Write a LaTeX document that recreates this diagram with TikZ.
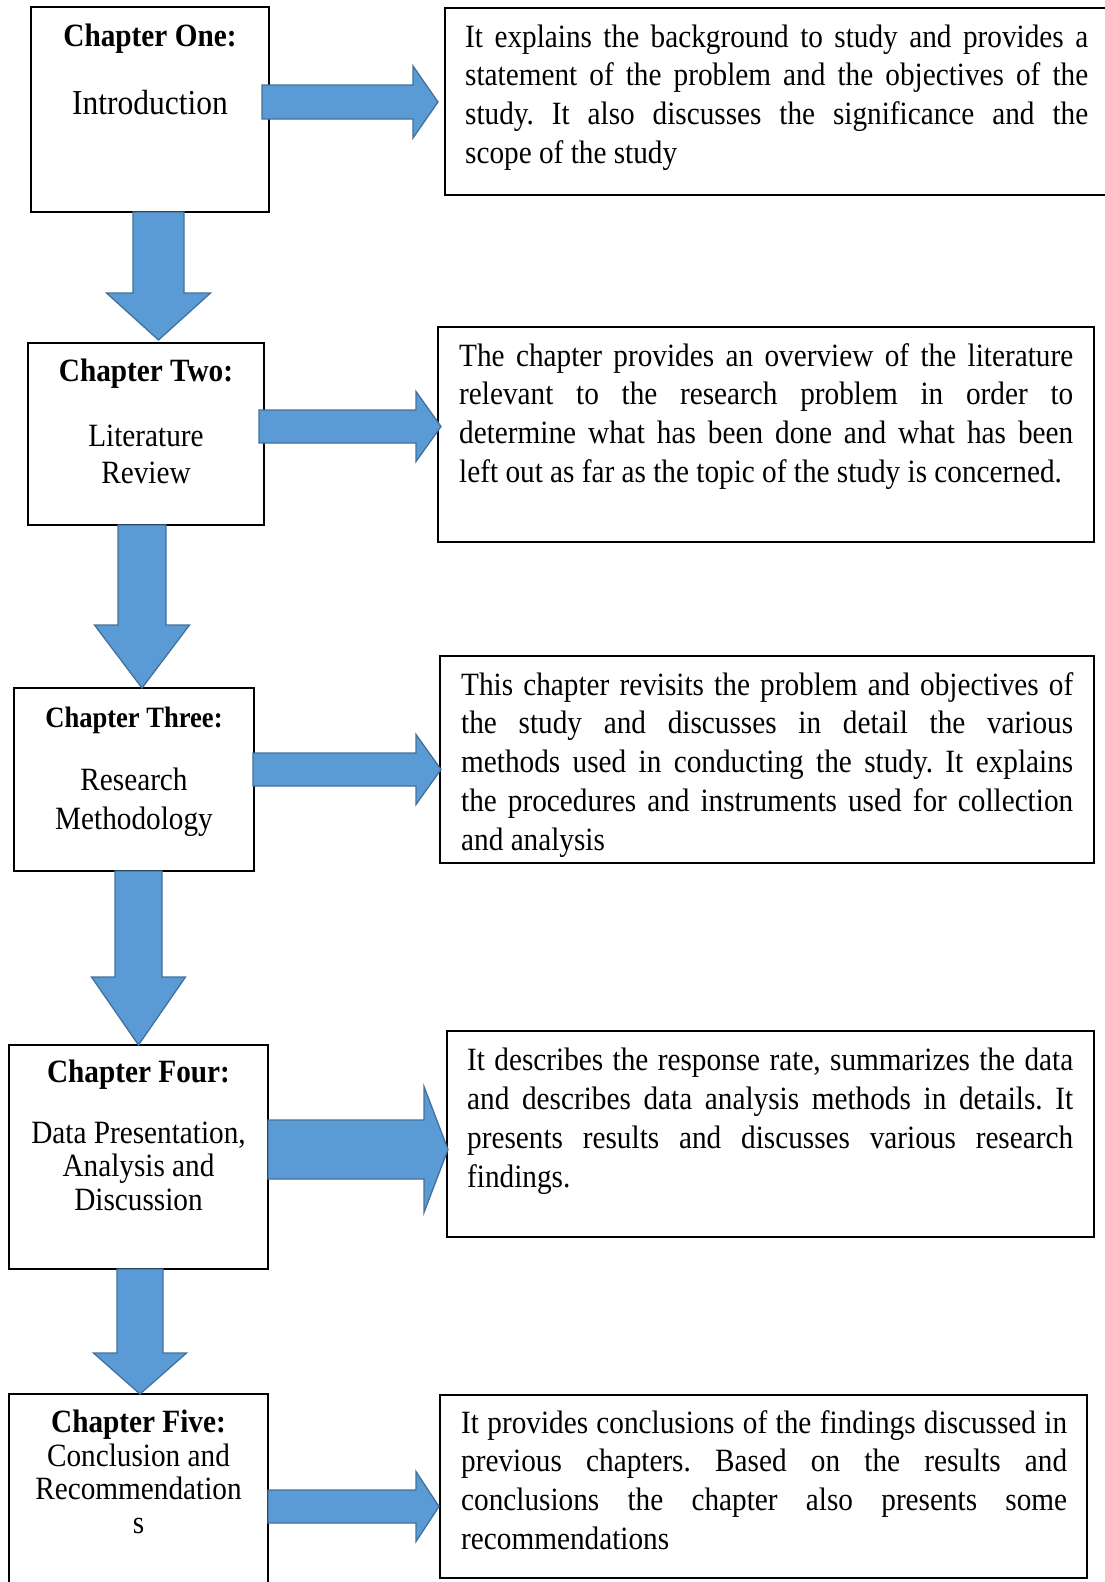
\documentclass[tikz,border=0pt]{standalone}
\usepackage{fontspec}
\setmainfont{Liberation Serif}[FakeStretch=0.9]
\definecolor{arrfill}{HTML}{5B9BD5}
\definecolor{arrline}{HTML}{41719C}
\newcommand{\jl}[2]{\makebox[#1][s]{\strut #2}}
\newcommand{\harrow}[6]{%
  \draw[blockarrow] (#1,#3-#4) -- (#2-#6,#3-#4) -- (#2-#6,#3-#5) -- (#2,#3)
    -- (#2-#6,#3+#5) -- (#2-#6,#3+#4) -- (#1,#3+#4) -- cycle;}
\newcommand{\varrow}[6]{%
  \draw[blockarrow] (#3-#4,#1) -- (#3-#4,#2-#6) -- (#3-#5,#2-#6) -- (#3,#2)
    -- (#3+#5,#2-#6) -- (#3+#4,#2-#6) -- (#3+#4,#1) -- cycle;}
\tikzset{
  chbox/.style={draw=black, line width=1.8pt, fill=white, inner sep=0pt},
  blockarrow/.style={fill=arrfill, draw=arrline, line width=1.3pt, line join=miter},
  head/.style={font=\fontsize{32.5}{38.8}\selectfont\bfseries, anchor=base, inner sep=0pt},
  headsm/.style={font=\fontsize{29.5}{35}\selectfont\bfseries, anchor=base, inner sep=0pt},
  lbl/.style={font=\fontsize{32.5}{37.3}\selectfont, anchor=base, inner sep=0pt},
  lblbig/.style={font=\fontsize{35}{40}\selectfont, anchor=base, inner sep=0pt},
  desc/.style={font=\fontsize{32.5}{38.8}\selectfont\frenchspacing, anchor=north west, align=left, inner sep=0pt},
}
\begin{document}
\frenchspacing
\begin{tikzpicture}[x=1pt,y=-1pt]
\useasboundingbox (0,0) rectangle (1105,1582);
\clip (0,0) rectangle (1105,1582);
% chapter boxes
\node[chbox, minimum width=238pt, minimum height=205pt] (c1) at (150,109.5) {};
\node[chbox, minimum width=236pt, minimum height=182pt] (c2) at (146,434) {};
\node[chbox, minimum width=240pt, minimum height=183pt] (c3) at (134,779.5) {};
\node[chbox, minimum width=259pt, minimum height=224pt] (c4) at (138.5,1157) {};
\node[chbox, minimum width=259pt, minimum height=206pt] (c5) at (138.5,1497) {};
% description boxes
\node[chbox, minimum width=670pt, minimum height=187pt] (r1) at (780,101.5) {};
\node[chbox, minimum width=656pt, minimum height=215pt] (r2) at (766,434.5) {};
\node[chbox, minimum width=654pt, minimum height=207pt] (r3) at (767,759.5) {};
\node[chbox, minimum width=647pt, minimum height=206pt] (r4) at (770.5,1134) {};
\node[chbox, minimum width=647pt, minimum height=183pt] (r5) at (763.5,1486.5) {};
% right block arrows
\harrow{262}{438}{102}{17}{36}{25}
\harrow{259}{441}{426.5}{16.5}{35}{25}
\harrow{253}{441}{769.5}{16.5}{35}{25}
\harrow{268}{448}{1149.5}{29.5}{63}{24}
\harrow{268}{439}{1506.5}{16.5}{35}{23}
% down block arrows
\varrow{212}{340}{158.5}{25.5}{52}{47}
\varrow{525}{688}{142}{24}{47.5}{63}
\varrow{871}{1045}{138.5}{23.5}{47}{68}
\varrow{1269}{1394}{140}{23}{46.5}{41}
% chapter texts
\node[head] (t1a) at (150,46.7) {Chapter One:};
\node[lblbig] (t1b) at (150,114.3) {Introduction};
\node[head] (t2a) at (146,381) {Chapter Two:};
\node[lbl] (t2b) at (146,446) {Literature};
\node[lbl] (t2c) at (146,483.3) {Review};
\node[headsm] (t3a) at (134,727.7) {Chapter Three:};
\node[lbl] (t3b) at (134,790.7) {Research};
\node[lbl] (t3c) at (134,829) {Methodology};
\node[head] (t4a) at (138.5,1082.7) {Chapter Four:};
\node[lbl] (t4b) at (138.5,1143.3) {Data Presentation,};
\node[lbl] (t4c) at (138.5,1176.7) {Analysis and};
\node[lbl] (t4d) at (138.5,1210.7) {Discussion};
\node[head] (t5a) at (138.5,1432.7) {Chapter Five:};
\node[lbl] (t5b) at (138.5,1466) {Conclusion and};
\node[lbl] (t5c) at (138.5,1499.3) {Recommendation};
\node[lbl] (t5d) at (138.5,1533.3) {s};
% description texts
\node[desc] (d1) at (465,19.8) {%
\jl{623pt}{It explains the background to study and provides a}\\
\jl{623pt}{statement of the problem and the objectives of the}\\
\jl{623pt}{study. It also discusses the significance and the}\\
\strut scope of the study};
\node[desc] (d2) at (459,338.8) {%
\jl{614pt}{The chapter provides an overview of the literature}\\
\jl{614pt}{relevant to the research problem in order to}\\
\jl{614pt}{determine what has been done and what has been}\\
\strut left out as far as the topic of the study is concerned.};
\node[desc] (d3) at (461,667.8) {%
\jl{612pt}{This chapter revisits the problem and objectives of}\\
\jl{612pt}{the study and discusses in detail the various}\\
\jl{612pt}{methods used in conducting the study. It explains}\\
\jl{612pt}{the procedures and instruments used for collection}\\
\strut and analysis};
\node[desc] (d4) at (467,1043.4) {%
\jl{606pt}{It describes the response rate, summarizes the data}\\
\jl{606pt}{and describes data analysis methods in details. It}\\
\jl{606pt}{presents results and discusses various research}\\
\strut findings.};
\node[desc] (d5) at (461,1405.8) {%
\jl{606pt}{It provides conclusions of the findings discussed in}\\
\jl{606pt}{previous chapters. Based on the results and}\\
\jl{606pt}{conclusions the chapter also presents some}\\
\strut recommendations};
\end{tikzpicture}
\end{document}
